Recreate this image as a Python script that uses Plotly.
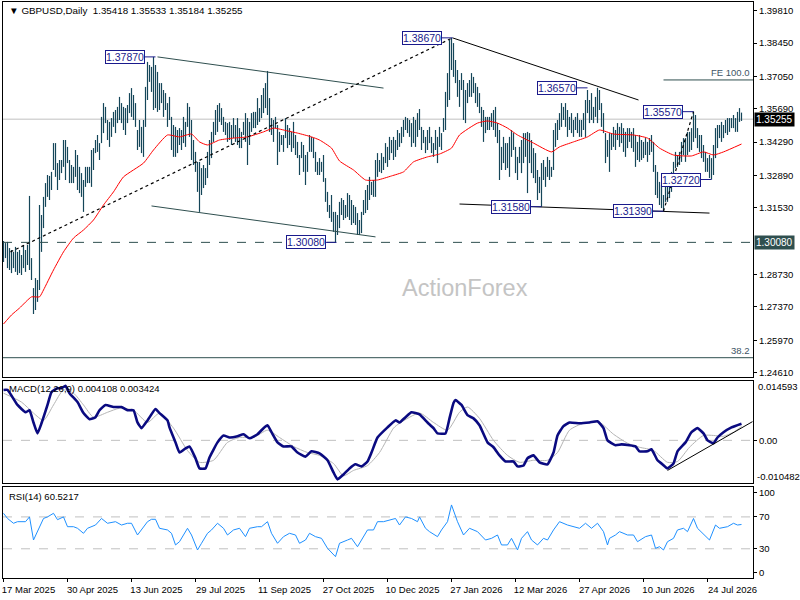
import plotly.graph_objects as go

# GBPUSD daily bars, bar index 0 = 17 Mar 2025
HIGHS = [
    1.3014, 1.3005, 1.3010, 1.2984, 1.2976, 1.2968, 1.2989, 1.2968, 1.2976, 1.2955,
    1.2997, 1.2976, 1.2997, 1.3203, 1.2942, 1.2816, 1.2858, 1.2850, 1.3165, 1.3123,
    1.3199, 1.3257, 1.3291, 1.3287, 1.3304, 1.3425, 1.3425, 1.3341, 1.3354, 1.3354,
    1.3438, 1.3438, 1.3409, 1.3354, 1.3333, 1.3325, 1.3396, 1.3375, 1.3325, 1.3299,
    1.3270, 1.3325, 1.3325, 1.3325, 1.3396, 1.3404, 1.3438, 1.3459, 1.3425, 1.3535,
    1.3593, 1.3577, 1.3522, 1.3514, 1.3530, 1.3556, 1.3564, 1.3577, 1.3619, 1.3593,
    1.3577, 1.3572, 1.3585, 1.3635, 1.3656, 1.3627, 1.3593, 1.3480, 1.3522, 1.3493,
    1.3522, 1.3661, 1.3766, 1.3753, 1.3745, 1.3787, 1.3753, 1.3724, 1.3677, 1.3677,
    1.3648, 1.3635, 1.3593, 1.3619, 1.3535, 1.3501, 1.3493, 1.3480, 1.3488, 1.3480,
    1.3535, 1.3514, 1.3593, 1.3577, 1.3522, 1.3438, 1.3388, 1.3346, 1.3346, 1.3320,
    1.3333, 1.3320, 1.3388, 1.3438, 1.3472, 1.3514, 1.3564, 1.3585, 1.3593, 1.3572,
    1.3535, 1.3514, 1.3509, 1.3514, 1.3501, 1.3530, 1.3501, 1.3530, 1.3488, 1.3472,
    1.3514, 1.3551, 1.3530, 1.3514, 1.3551, 1.3556, 1.3556, 1.3614, 1.3572, 1.3627,
    1.3656, 1.3677, 1.3728, 1.3614, 1.3530, 1.3522, 1.3535, 1.3501, 1.3472, 1.3459,
    1.3459, 1.3530, 1.3501, 1.3488, 1.3472, 1.3514, 1.3459, 1.3430, 1.3375, 1.3430,
    1.3417, 1.3375, 1.3388, 1.3459, 1.3451, 1.3446, 1.3388, 1.3346, 1.3362, 1.3346,
    1.3375, 1.3278, 1.3220, 1.3165, 1.3207, 1.3136, 1.3136, 1.3123, 1.3178, 1.3194,
    1.3186, 1.3165, 1.3215, 1.3207, 1.3186, 1.3165, 1.3157, 1.3131, 1.3102, 1.3136,
    1.3186, 1.3228, 1.3249, 1.3283, 1.3262, 1.3270, 1.3354, 1.3383, 1.3354, 1.3383,
    1.3367, 1.3425, 1.3409, 1.3451, 1.3438, 1.3451, 1.3438, 1.3480, 1.3467, 1.3493,
    1.3522, 1.3535, 1.3530, 1.3522, 1.3509, 1.3535, 1.3522, 1.3551, 1.3568, 1.3493,
    1.3480, 1.3451, 1.3480, 1.3493, 1.3451, 1.3425, 1.3480, 1.3451, 1.3493, 1.3467,
    1.3530, 1.3640, 1.3719, 1.3858, 1.3867, 1.3845, 1.3774, 1.3732, 1.3690, 1.3719,
    1.3690, 1.3648, 1.3677, 1.3690, 1.3719, 1.3703, 1.3677, 1.3661, 1.3635, 1.3577,
    1.3564, 1.3535, 1.3535, 1.3535, 1.3551, 1.3564, 1.3577, 1.3509, 1.3480, 1.3409,
    1.3451, 1.3425, 1.3425, 1.3451, 1.3480, 1.3467, 1.3409, 1.3367, 1.3409, 1.3438,
    1.3467, 1.3467, 1.3472, 1.3467, 1.3438, 1.3404, 1.3383, 1.3312, 1.3283, 1.3341,
    1.3354, 1.3325, 1.3367, 1.3354, 1.3325, 1.3480, 1.3509, 1.3522, 1.3551, 1.3593,
    1.3577, 1.3593, 1.3564, 1.3535, 1.3551, 1.3522, 1.3535, 1.3551, 1.3522, 1.3522,
    1.3551, 1.3606, 1.3648, 1.3606, 1.3635, 1.3577, 1.3619, 1.3657, 1.3648, 1.3593,
    1.3551, 1.3467, 1.3438, 1.3467, 1.3467, 1.3493, 1.3480, 1.3509, 1.3493, 1.3509,
    1.3488, 1.3472, 1.3488, 1.3488, 1.3472, 1.3488, 1.3459, 1.3430, 1.3459, 1.3438,
    1.3430, 1.3446, 1.3430, 1.3446, 1.3459, 1.3430, 1.3333, 1.3304, 1.3262, 1.3249,
    1.3207, 1.3249, 1.3278, 1.3262, 1.3304, 1.3346, 1.3388, 1.3375, 1.3388, 1.3430,
    1.3446, 1.3446, 1.3472, 1.3472, 1.3488, 1.3557, 1.3543, 1.3488, 1.3459, 1.3459,
    1.3417, 1.3388, 1.3362, 1.3375, 1.3362, 1.3417, 1.3488, 1.3501, 1.3501, 1.3514,
    1.3501, 1.3522, 1.3530, 1.3530, 1.3530, 1.3543, 1.3530, 1.3556, 1.3572, 1.3553,
]
LOWS = [
    1.2926, 1.2942, 1.2900, 1.2892, 1.2879, 1.2900, 1.2884, 1.2871, 1.2879, 1.2871,
    1.2900, 1.2884, 1.2913, 1.2892, 1.2850, 1.2707, 1.2724, 1.2758, 1.2808, 1.2968,
    1.3068, 1.3157, 1.3199, 1.3186, 1.3228, 1.3312, 1.3283, 1.3228, 1.3270, 1.3299,
    1.3325, 1.3270, 1.3341, 1.3257, 1.3257, 1.3257, 1.3283, 1.3228, 1.3215, 1.3199,
    1.3136, 1.3241, 1.3257, 1.3257, 1.3241, 1.3312, 1.3383, 1.3388, 1.3354, 1.3425,
    1.3467, 1.3509, 1.3438, 1.3409, 1.3451, 1.3493, 1.3467, 1.3509, 1.3522, 1.3509,
    1.3480, 1.3459, 1.3509, 1.3551, 1.3535, 1.3522, 1.3493, 1.3396, 1.3409, 1.3383,
    1.3367, 1.3493, 1.3606, 1.3682, 1.3640, 1.3564, 1.3572, 1.3556, 1.3564, 1.3593,
    1.3535, 1.3564, 1.3493, 1.3522, 1.3396, 1.3367, 1.3367, 1.3383, 1.3417, 1.3396,
    1.3425, 1.3409, 1.3493, 1.3451, 1.3354, 1.3333, 1.3304, 1.3220, 1.3136, 1.3207,
    1.3236, 1.3249, 1.3278, 1.3333, 1.3362, 1.3430, 1.3459, 1.3472, 1.3514, 1.3501,
    1.3472, 1.3459, 1.3430, 1.3438, 1.3417, 1.3446, 1.3430, 1.3417, 1.3404, 1.3404,
    1.3459, 1.3430, 1.3333, 1.3417, 1.3472, 1.3488, 1.3488, 1.3501, 1.3514, 1.3530,
    1.3551, 1.3572, 1.3543, 1.3472, 1.3459, 1.3430, 1.3488, 1.3333, 1.3388, 1.3417,
    1.3388, 1.3446, 1.3404, 1.3417, 1.3388, 1.3404, 1.3375, 1.3362, 1.3291, 1.3362,
    1.3304, 1.3249, 1.3304, 1.3388, 1.3388, 1.3362, 1.3304, 1.3291, 1.3291, 1.3304,
    1.3262, 1.3178, 1.3136, 1.3110, 1.3094, 1.3052, 1.3008, 1.3039, 1.3068, 1.3123,
    1.3102, 1.3110, 1.3115, 1.3102, 1.3081, 1.3089, 1.3081, 1.3039, 1.3039, 1.3047,
    1.3123, 1.3131, 1.3144, 1.3186, 1.3207, 1.3199, 1.3199, 1.3283, 1.3304, 1.3299,
    1.3312, 1.3341, 1.3325, 1.3354, 1.3383, 1.3354, 1.3367, 1.3396, 1.3409, 1.3425,
    1.3451, 1.3480, 1.3467, 1.3451, 1.3409, 1.3425, 1.3409, 1.3451, 1.3480, 1.3396,
    1.3425, 1.3383, 1.3396, 1.3425, 1.3383, 1.3367, 1.3396, 1.3341, 1.3409, 1.3396,
    1.3472, 1.3480, 1.3577, 1.3606, 1.3732, 1.3703, 1.3677, 1.3619, 1.3577, 1.3648,
    1.3522, 1.3509, 1.3593, 1.3619, 1.3619, 1.3635, 1.3593, 1.3577, 1.3551, 1.3493,
    1.3430, 1.3467, 1.3480, 1.3480, 1.3493, 1.3480, 1.3451, 1.3425, 1.3270, 1.3312,
    1.3341, 1.3312, 1.3320, 1.3283, 1.3367, 1.3396, 1.3299, 1.3270, 1.3341, 1.3299,
    1.3341, 1.3367, 1.3215, 1.3341, 1.3299, 1.3278, 1.3257, 1.3186, 1.3215, 1.3158,
    1.3270, 1.3241, 1.3283, 1.3270, 1.3283, 1.3312, 1.3409, 1.3438, 1.3480, 1.3493,
    1.3522, 1.3493, 1.3451, 1.3480, 1.3467, 1.3451, 1.3480, 1.3467, 1.3451, 1.3451,
    1.3480, 1.3451, 1.3551, 1.3509, 1.3522, 1.3509, 1.3535, 1.3509, 1.3564, 1.3493,
    1.3467, 1.3341, 1.3367, 1.3304, 1.3396, 1.3409, 1.3396, 1.3438, 1.3409, 1.3425,
    1.3388, 1.3367, 1.3404, 1.3430, 1.3404, 1.3388, 1.3325, 1.3354, 1.3346, 1.3354,
    1.3362, 1.3375, 1.3346, 1.3375, 1.3388, 1.3304, 1.3207, 1.3194, 1.3165, 1.3152,
    1.3139, 1.3178, 1.3178, 1.3194, 1.3220, 1.3262, 1.3320, 1.3325, 1.3333, 1.3346,
    1.3375, 1.3346, 1.3375, 1.3388, 1.3396, 1.3430, 1.3446, 1.3404, 1.3388, 1.3362,
    1.3346, 1.3304, 1.3304, 1.3278, 1.3272, 1.3291, 1.3362, 1.3404, 1.3446, 1.3430,
    1.3446, 1.3467, 1.3459, 1.3472, 1.3488, 1.3488, 1.3472, 1.3472, 1.3514, 1.3518,
]

# red moving average, sampled along the chart
MA_IDX = [0, 4, 8, 14, 18, 20, 25, 30, 35, 40, 45, 50, 55, 60, 70, 75, 82, 88, 94, 98,
          102, 108, 115, 122, 130, 135, 142, 147, 154, 158, 164, 168, 175, 181, 187, 194,
          200, 205, 212, 218, 224, 228, 237, 242, 247, 252, 257, 265, 274, 278, 285, 292,
          298, 305, 315, 322, 328, 335, 344, 350, 355, 360, 369]
MA_VAL = [1.2665, 1.2703, 1.2732, 1.2779, 1.2779, 1.2808, 1.2892, 1.2968, 1.3026, 1.3060,
          1.3102, 1.3165, 1.3220, 1.3283, 1.3341, 1.3396, 1.3459, 1.3451, 1.3463, 1.3430,
          1.3417, 1.3438, 1.3446, 1.3451, 1.3472, 1.3488, 1.3476, 1.3467, 1.3451, 1.3438,
          1.3404, 1.3350, 1.3312, 1.3270, 1.3270, 1.3287, 1.3304, 1.3346, 1.3367, 1.3379,
          1.3404, 1.3459, 1.3509, 1.3518, 1.3509, 1.3488, 1.3459, 1.3425, 1.3388, 1.3409,
          1.3430, 1.3451, 1.3480, 1.3463, 1.3459, 1.3446, 1.3404, 1.3375, 1.3371, 1.3388,
          1.3375, 1.3388, 1.3421]

MACD_IDX = [0, 2, 7, 11, 13, 15, 17, 19, 22, 24,
            27, 29, 31, 33, 37, 40, 43, 46, 48, 51,
            55, 59, 62, 65, 67, 69, 72, 76, 78, 82,
            83, 86, 88, 91, 93, 96, 98, 101, 103, 107,
            110, 113, 117, 120, 123, 127, 130, 132, 134, 137,
            140, 144, 147, 151, 154, 158, 162, 165, 167, 170,
            173, 176, 179, 182, 184, 187, 192, 196, 198, 201,
            204, 208, 212, 215, 217, 221, 223, 225, 226, 229,
            232, 235, 238, 242, 245, 248, 251, 255, 257, 260,
            262, 265, 268, 272, 275, 277, 280, 283, 288, 293,
            297, 300, 302, 306, 309, 313, 316, 318, 322, 324,
            327, 329, 332, 335, 337, 341, 344, 347, 350, 352,
            355, 357, 360, 364, 369]
MACD_VAL = [0.0124, 0.0124, 0.0087, 0.0069, 0.0074, 0.0044, 0.0017, 0.0042, 0.0087, 0.0119,
            0.0128, 0.0128, 0.0134, 0.0116, 0.0094, 0.0067, 0.0052, 0.0057, 0.0074, 0.0087,
            0.0082, 0.0082, 0.0074, 0.0074, 0.0044, 0.0030, 0.0049, 0.0077, 0.0067, 0.0049,
            0.0032, -0.0005, -0.0030, -0.0020, -0.0015, -0.0044, -0.0069, -0.0069, -0.0042, -0.0005,
            0.0012, 0.0007, 0.0010, 0.0015, 0.0005, 0.0015, 0.0030, 0.0037, 0.0020, -0.0005,
            -0.0015, -0.0015, -0.0030, -0.0040, -0.0027, -0.0032, -0.0049, -0.0079, -0.0096, -0.0084,
            -0.0069, -0.0059, -0.0064, -0.0052, -0.0030, 0.0007, 0.0032, 0.0049, 0.0044, 0.0057,
            0.0069, 0.0064, 0.0044, 0.0030, 0.0017, 0.0017, 0.0054, 0.0092, 0.0099, 0.0087,
            0.0062, 0.0054, 0.0037, -0.0005, -0.0017, -0.0037, -0.0052, -0.0052, -0.0064, -0.0062,
            -0.0044, -0.0037, -0.0054, -0.0059, -0.0030, 0.0012, 0.0035, 0.0044, 0.0042, 0.0044,
            0.0047, 0.0030, 0.0000, -0.0012, -0.0010, -0.0012, -0.0015, -0.0027, -0.0027, -0.0022,
            -0.0049, -0.0057, -0.0069, -0.0057, -0.0027, -0.0005, 0.0020, 0.0030, 0.0017, 0.0000,
            -0.0007, 0.0007, 0.0020, 0.0032, 0.0041]
SIGNAL_IDX = [0, 9, 15, 20, 25, 30, 35, 40, 45, 52,
              58, 65, 72, 78, 85, 92, 98, 105, 112, 118,
              125, 132, 138, 145, 152, 158, 165, 170, 175, 182,
              188, 195, 198, 208, 215, 222, 228, 232, 238, 245,
              252, 258, 265, 272, 277, 283, 290, 298, 305, 312,
              318, 325, 332, 337, 343, 350, 355, 360, 365, 369]
SIGNAL_VAL = [0.0116, 0.0094, 0.0067, 0.0049, 0.0087, 0.0124, 0.0116, 0.0087, 0.0057, 0.0069,
              0.0079, 0.0074, 0.0044, 0.0067, 0.0030, -0.0025, -0.0054, -0.0049, -0.0005, 0.0007,
              0.0007, 0.0025, 0.0007, -0.0015, -0.0030, -0.0037, -0.0057, -0.0087, -0.0074, -0.0062,
              -0.0030, 0.0030, 0.0042, 0.0067, 0.0044, 0.0025, 0.0069, 0.0082, 0.0054, 0.0000,
              -0.0037, -0.0054, -0.0049, -0.0049, -0.0030, 0.0025, 0.0042, 0.0044, 0.0015, -0.0007,
              -0.0017, -0.0025, -0.0054, -0.0052, -0.0017, 0.0012, 0.0012, 0.0010, 0.0020, 0.0034]
MACD_MAX = 0.014593
MACD_MIN = -0.010482

RSI_IDX = [0, 2, 5, 7, 11, 13, 15, 17, 20, 22,
           25, 27, 30, 32, 35, 37, 40, 42, 46, 49,
           52, 56, 59, 62, 64, 67, 69, 72, 74, 76,
           78, 82, 84, 86, 88, 92, 94, 97, 99, 102,
           104, 107, 110, 112, 115, 118, 121, 123, 127, 129,
           132, 134, 137, 140, 143, 146, 148, 151, 153, 156,
           159, 162, 166, 168, 172, 174, 177, 179, 182, 185,
           187, 190, 193, 196, 198, 201, 204, 207, 208, 211,
           213, 217, 219, 222, 224, 227, 230, 233, 237, 241,
           244, 247, 249, 252, 254, 257, 259, 262, 264, 267,
           270, 272, 275, 278, 282, 285, 288, 291, 294, 297,
           300, 302, 303, 306, 308, 312, 315, 317, 321, 324,
           326, 328, 330, 332, 335, 337, 340, 342, 345, 347,
           351, 353, 356, 358, 362, 365, 367, 369]
RSI_VAL = [74.5, 68, 62, 64, 64, 70, 41, 51, 68, 70,
           74.5, 66.5, 70, 57.7, 57.7, 55.7, 49.4, 55.7, 59.8, 68,
           62, 64, 59.8, 62, 62, 47.3, 53.6, 64, 67, 67,
           55.7, 53.6, 49.4, 34.8, 38.9, 55.7, 47.3, 28.5, 36.9, 49.4,
           53.6, 62, 55.7, 47.3, 53.6, 55.7, 45.2, 55.7, 57.7, 57.7,
           64, 49.4, 36.9, 45.2, 49.4, 47.3, 36.9, 41, 49.4, 45.2,
           43.1, 30.6, 20.1, 36.9, 41, 43.1, 32.6, 41, 53.6, 53.6,
           64, 64, 66.5, 68, 59.8, 70, 68, 64, 70, 55.7,
           51.5, 45.2, 53.6, 64, 85, 64, 47.3, 55.7, 51.5, 41,
           43.1, 47.3, 34.8, 34.8, 43.1, 28.5, 43.1, 51.5, 41, 34.8,
           43.1, 41, 53.6, 64, 59.8, 57.7, 55.7, 62, 55.7, 62,
           51.5, 34.8, 43.1, 47.3, 51.5, 47.3, 47.3, 38.9, 45.2, 47.3,
           30.6, 32.6, 28.5, 38.9, 43.1, 53.6, 55.7, 51.5, 68, 55.7,
           45.2, 41, 59.8, 55.7, 57.7, 62, 59.8, 60.5]

DATE_TICK_IDX = [0, 32, 64, 96, 128, 160, 192, 224, 256, 288, 320, 352]
DATE_TICK_TEXT = ["17 Mar 2025", "30 Apr 2025", "13 Jun 2025", "29 Jul 2025",
                  "11 Sep 2025", "27 Oct 2025", "10 Dec 2025", "27 Jan 2026",
                  "12 Mar 2026", "27 Apr 2026", "10 Jun 2026", "24 Jul 2026"]
PRICE_TICKS = [1.39810, 1.38450, 1.37050, 1.35690, 1.34290, 1.32890, 1.31530,
               1.28730, 1.27370, 1.25970, 1.24610]

# swing high/low labels: (bar index the label points at, price)
SWING_LABELS = [(76, 1.37870), (224.5, 1.38670), (292, 1.36570), (345, 1.35570),
                (354, 1.32720), (269, 1.31580), (330, 1.31390), (166.5, 1.30080)]
# drawn trendlines: (idx0, price0, idx1, price1, colour, dash)
TRENDLINES = [
    (77, 1.3787, 190, 1.3656, "#2F4F4F", "solid"),
    (74, 1.3161, 186, 1.3031, "#2F4F4F", "solid"),
    (3.5, 1.2968, 224.5, 1.3867, "black", "dot"),
    (224.5, 1.3867, 317.5, 1.3606, "black", "solid"),
    (228, 1.3169, 353, 1.3131, "black", "solid"),
    (330, 1.3139, 345, 1.3557, "black", "dot"),
]
MACD_TREND = (332, -0.0074, 374.5, 0.0046)

BID = 1.35255
SUPPORT = 1.30080
FE_LEVEL = 1.36902
FE_START = 330
FIB_382 = 1.25236

X_RANGE = [-0.25, 374.75]
FONT = "Liberation Sans, Arial, sans-serif"
BAR_COLOR = "#154659"
SLATE = "#2F4F4F"
LABEL_COLOR = "#1A1A8C"

bar_x, bar_y = [], []
for i, (h, l) in enumerate(zip(HIGHS, LOWS)):
    bar_x += [i, i, None]
    bar_y += [l, h, None]

fig = go.Figure()
fig.add_trace(go.Scatter(x=bar_x, y=bar_y, mode="lines", xaxis="x", yaxis="y",
                         line=dict(color=BAR_COLOR, width=1.2), hoverinfo="skip"))
fig.add_trace(go.Scatter(x=MA_IDX, y=MA_VAL, mode="lines", xaxis="x", yaxis="y",
                         line=dict(color="red", width=1, shape="spline", smoothing=0.5)))
fig.add_trace(go.Scatter(x=SIGNAL_IDX, y=SIGNAL_VAL, mode="lines", xaxis="x2", yaxis="y2",
                         line=dict(color="#B4B4B4", width=1, shape="spline", smoothing=0.6)))
fig.add_trace(go.Scatter(x=MACD_IDX, y=MACD_VAL, mode="lines", xaxis="x2", yaxis="y2",
                         line=dict(color="#0A0A80", width=2.6, shape="spline", smoothing=0.4)))
fig.add_trace(go.Scatter(x=RSI_IDX, y=RSI_VAL, mode="lines", xaxis="x3", yaxis="y3",
                         line=dict(color="#1E90FF", width=1)))

shapes = [
    dict(type="line", xref="x domain", yref="y", x0=0, x1=1, y0=BID, y1=BID,
         line=dict(color="#C0C0C0", width=1), layer="below"),
    dict(type="line", xref="x domain", yref="y", x0=0, x1=1, y0=SUPPORT, y1=SUPPORT,
         line=dict(color=SLATE, width=1, dash="dash")),
    dict(type="line", xref="x domain", yref="y", x0=0, x1=1, y0=FIB_382, y1=FIB_382,
         line=dict(color=SLATE, width=1)),
    dict(type="line", xref="x", yref="y", x0=FE_START, x1=X_RANGE[1], y0=FE_LEVEL, y1=FE_LEVEL,
         line=dict(color=SLATE, width=1)),
    dict(type="line", xref="x2 domain", yref="y2", x0=0, x1=1, y0=0, y1=0,
         line=dict(color="#C0C0C0", width=1, dash="dash"), layer="below"),
    dict(type="line", xref="x2", yref="y2", x0=MACD_TREND[0], y0=MACD_TREND[1],
         x1=MACD_TREND[2], y1=MACD_TREND[3], line=dict(color="black", width=1)),
]
for level in (70, 30):
    shapes.append(dict(type="line", xref="x3 domain", yref="y3", x0=0, x1=1, y0=level, y1=level,
                       line=dict(color="#C0C0C0", width=1, dash="dash"), layer="below"))
for x0, y0, x1, y1, color, dash in TRENDLINES:
    shapes.append(dict(type="line", xref="x", yref="y", x0=x0, y0=y0, x1=x1, y1=y1,
                       line=dict(color=color, width=1.2 if dash == "dot" else 1, dash=dash)))

annotations = [
    dict(xref="paper", yref="paper", x=0.005, y=0.985, xanchor="left", yanchor="middle",
         text="▼ GBPUSD,Daily  1.35418 1.35533 1.35184 1.35255", showarrow=False,
         font=dict(size=9.8, color="black")),
    dict(xref="x domain", yref="y domain", x=0.616, y=0.197, text="ActionForex",
         showarrow=False, font=dict(size=23.5, color="#C4C4C4")),
    dict(xref="x domain", yref="y", x=1, y=FE_LEVEL, xanchor="right", yanchor="bottom",
         text="FE 100.0", showarrow=False, xshift=-1, font=dict(size=9.5, color="#3E5566")),
    dict(xref="x domain", yref="y", x=1, y=FIB_382, xanchor="right", yanchor="bottom",
         text="38.2", showarrow=False, xshift=-1, font=dict(size=9.5, color="#3E5566")),
    dict(xref="x domain", yref="y", x=1, y=BID, xanchor="left", yanchor="middle",
         text="1.35255", showarrow=False, bgcolor="black", borderpad=1, xshift=1,
         font=dict(size=10, color="white")),
    dict(xref="x domain", yref="y", x=1, y=SUPPORT, xanchor="left", yanchor="middle",
         text="1.30080", showarrow=False, bgcolor=SLATE, borderpad=1, xshift=1,
         font=dict(size=10, color="white")),
    # MACD window max/min are printed just inside the window edges
    dict(xref="x2 domain", yref="y2", x=1, y=MACD_MAX, xanchor="left", yanchor="top",
         text=f"{MACD_MAX:.6f}", showarrow=False, xshift=3, yshift=2,
         font=dict(size=9.5, color="black")),
    dict(xref="x2 domain", yref="y2", x=1, y=MACD_MIN, xanchor="left", yanchor="bottom",
         text=f"{MACD_MIN:.6f}", showarrow=False, xshift=2, yshift=-1,
         font=dict(size=9.5, color="black")),
    dict(xref="x2 domain", yref="y2 domain", x=0.005, y=0.93, xanchor="left", yanchor="middle",
         text="MACD(12,26,9) 0.004108 0.003424", showarrow=False,
         font=dict(size=9.5, color="black")),
    dict(xref="x3 domain", yref="y3 domain", x=0.005, y=0.9, xanchor="left", yanchor="middle",
         text="RSI(14) 60.5217", showarrow=False, font=dict(size=9.5, color="black")),
]
for idx, price in SWING_LABELS:
    annotations.append(dict(
        xref="x", yref="y", x=idx, y=price, text=f"{price:.5f}",
        showarrow=True, arrowhead=0, arrowwidth=1, arrowcolor=LABEL_COLOR, standoff=0,
        ax=-31, ay=0, bgcolor="white", bordercolor=LABEL_COLOR, borderwidth=1, borderpad=0,
        font=dict(size=10.5, color=LABEL_COLOR),
    ))

frame = dict(showgrid=False, zeroline=False, showline=True, linecolor="black",
             linewidth=1, mirror=True)
fig.update_layout(
    width=800, height=600,
    margin=dict(l=3, r=47, t=2, b=22),
    paper_bgcolor="white", plot_bgcolor="white",
    showlegend=False,
    font=dict(family=FONT, size=9.5, color="black"),
    xaxis=dict(**frame, domain=[0, 1], anchor="y", range=X_RANGE, showticklabels=False),
    xaxis2=dict(**frame, domain=[0, 1], anchor="y2", matches="x", showticklabels=False),
    xaxis3=dict(**frame, domain=[0, 1], anchor="y3", matches="x",
                tickvals=DATE_TICK_IDX, ticktext=DATE_TICK_TEXT, ticks="outside",
                ticklen=3, tickcolor="black", ticklabelshift=25),
    yaxis=dict(**frame, domain=[0.349, 1], anchor="x", range=[1.24426, 1.40176], side="right",
               tickvals=PRICE_TICKS, tickformat=".5f", ticks="outside", ticklen=3,
               tickcolor="black"),
    yaxis2=dict(**frame, domain=[0.165, 0.342], anchor="x2", range=[MACD_MIN, MACD_MAX],
                side="right", tickvals=[0], ticktext=["0.00"], ticks="outside", ticklen=3,
                tickcolor="black"),
    yaxis3=dict(**frame, domain=[0, 0.158], anchor="x3", range=[-6.65, 107.5], side="right",
                tickvals=[100, 70, 30, 0], ticks="outside", ticklen=3, tickcolor="black"),
    shapes=shapes,
    annotations=annotations,
)

# the page's default body margin would push the 800x600 figure out of the window
fig.write_html("out.html", config={"displayModeBar": False},
               post_script="document.body.style.margin = '0';")
